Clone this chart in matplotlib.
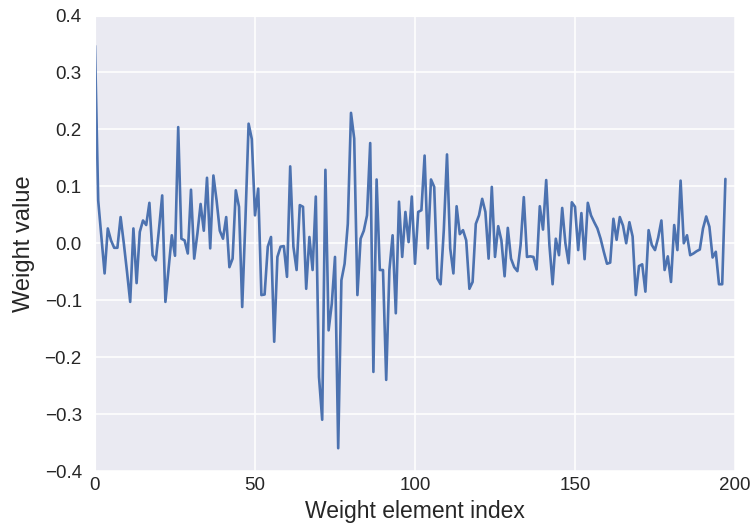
import matplotlib
matplotlib.use("Agg")
import matplotlib.pyplot as plt
import seaborn as sns

# weight values, index 0..197
weights = [
    0.347, 0.075, 0.010, -0.053, 0.026, 0.005, -0.008, -0.008, 0.046, 0.000,
    -0.050, -0.103, 0.026, -0.070, 0.020, 0.040, 0.032, 0.071, -0.021, -0.030,
    0.025, 0.084, -0.103, -0.045, 0.014, -0.022, 0.204, 0.008, 0.005, -0.018,
    0.094, -0.027, 0.017, 0.069, 0.022, 0.115, -0.009, 0.119, 0.075, 0.022,
    0.008, 0.046, -0.042, -0.027, 0.093, 0.064, -0.112, 0.040, 0.210, 0.183,
    0.049, 0.096, -0.091, -0.090, -0.006, 0.011, -0.173, -0.024, -0.006, -0.005,
    -0.059, 0.135, -0.006, -0.047, 0.067, 0.064, -0.080, 0.011, -0.047, 0.082,
    -0.235, -0.310, 0.129, -0.153, -0.106, -0.024, -0.360, -0.065, -0.036, 0.034,
    0.229, 0.184, -0.091, 0.008, 0.022, 0.049, 0.176, -0.226, 0.112, -0.047,
    -0.047, -0.240, -0.047, 0.014, -0.123, 0.073, -0.024, 0.055, 0.002, 0.082,
    -0.036, 0.055, 0.058, 0.154, -0.009, 0.112, 0.099, -0.062, -0.072, 0.023,
    0.156, -0.009, -0.053, 0.065, 0.016, 0.023, 0.005, -0.080, -0.068, 0.034,
    0.049, 0.078, 0.055, -0.027, 0.099, -0.024, 0.030, 0.005, -0.058, 0.027,
    -0.027, -0.042, -0.049, -0.003, 0.081, -0.024, -0.023, -0.024, -0.046, 0.065,
    0.024, 0.111, -0.003, -0.072, 0.008, -0.021, 0.062, 0.000, -0.035, 0.072,
    0.064, -0.012, 0.053, -0.028, 0.071, 0.049, 0.037, 0.026, 0.008, -0.015,
    -0.036, -0.034, 0.043, 0.006, 0.046, 0.031, 0.000, 0.037, 0.012, -0.091,
    -0.040, -0.037, -0.085, 0.023, -0.003, -0.012, 0.010, 0.040, -0.047, -0.023,
    -0.068, 0.032, -0.012, 0.110, 0.000, 0.014, -0.021, -0.018, -0.014, -0.011,
    0.026, 0.047, 0.029, -0.025, -0.015, -0.072, -0.072, 0.113,
]
x_ticks = [0, 50, 100, 150, 200]
y_ticks = [-0.4, -0.3, -0.2, -0.1, 0.0, 0.1, 0.2, 0.3, 0.4]

sns.set_style("darkgrid")
plt.rcParams["font.family"] = ["Liberation Sans", "DejaVu Sans"]

fig = plt.figure(figsize=(7.52, 5.29), dpi=100)
ax = fig.add_axes([95 / 752, 1 - 471 / 529, 640 / 752, 455.5 / 529])

ax.plot(range(len(weights)), weights, color="#4C72B0", linewidth=1.9)

ax.set_xlim(0, 200)
ax.set_ylim(-0.4, 0.4)
ax.set_xticks(x_ticks)
ax.set_yticks(y_ticks)
ax.set_yticklabels([("%.1f" % v).replace("-", "\u2212") for v in y_ticks])
ax.tick_params(axis="both", labelsize=13.5, length=0, colors="#262626")
ax.tick_params(axis="x", pad=4.5)
ax.tick_params(axis="y", pad=9.5)
ax.grid(True, color="white", linewidth=1.1)
ax.set_xlabel("Weight element index", fontsize=16.5, color="#262626", labelpad=4)
ax.set_ylabel("Weight value", fontsize=17, color="#262626", labelpad=7)

fig.savefig("out.png", dpi=100)
